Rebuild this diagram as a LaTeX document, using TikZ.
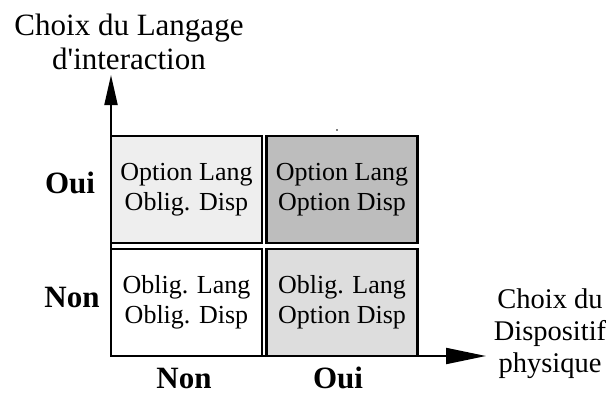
\documentclass[tikz,border=0pt]{standalone}
\usepackage{fontspec}
\setmainfont{Liberation Serif}[Ligatures=TeXOff]
\usetikzlibrary{arrows.meta}
\definecolor{cellA}{HTML}{EEEEEE}
\definecolor{cellB}{HTML}{BDBDBD}
\definecolor{cellC}{HTML}{FFFFFF}
\definecolor{cellD}{HTML}{DDDDDD}
\begin{document}
\begin{tikzpicture}[x=1pt,y=-1pt,
  cell/.style={draw=black, line width=2.6pt, minimum width=151pt, minimum height=107pt,
    inner sep=0pt, align=center, font=\fontsize{26}{30}\selectfont},
  axislabel/.style={font=\bfseries\fontsize{31}{34}\selectfont, anchor=base, inner sep=0pt},
  axis/.style={line width=2pt},
  title/.style={align=center, inner sep=0pt}
]
\useasboundingbox (0,0) rectangle (613,394);
% cells
\node[cell, fill=cellA] (c11) at (186.5,189.5) {Option Lang\\Oblig. Disp};
\node[cell, fill=cellB] (c12) at (342,189.5) {Option Lang\\Option Disp};
\node[cell, fill=cellC] (c21) at (186.5,302.5) {Oblig. Lang\\Oblig. Disp};
\node[cell, fill=cellD] (c22) at (342,302.5) {Oblig. Lang\\Option Disp};
% axes
\coordinate (O) at (111,356);
\coordinate (ytip) at (111,75);
\coordinate (xtip) at (486,356);
\draw[axis, -{Triangle[length=30pt,width=13pt]}] (O) -- (ytip);
\draw[axis, -{Triangle[length=40pt,width=16pt]}] (O) -- (xtip);
% axis values
\node[axislabel] (youi) at (70,193) {Oui};
\node[axislabel] (ynon) at (72,307) {Non};
\node[axislabel] (xnon) at (184,388) {Non};
\node[axislabel] (xoui) at (338,388) {Oui};
% axis titles
\node[title, font=\fontsize{31}{34}\selectfont] (ytitle) at (129,42) {Choix du Langage\\d'interaction};
\node[title, font=\fontsize{28.5}{32}\selectfont] (xtitle) at (550,334) {Choix du\\Dispositif\\physique};
% tiny mark
\fill[gray] (336,129) rectangle (338,131);
\end{tikzpicture}
\end{document}
